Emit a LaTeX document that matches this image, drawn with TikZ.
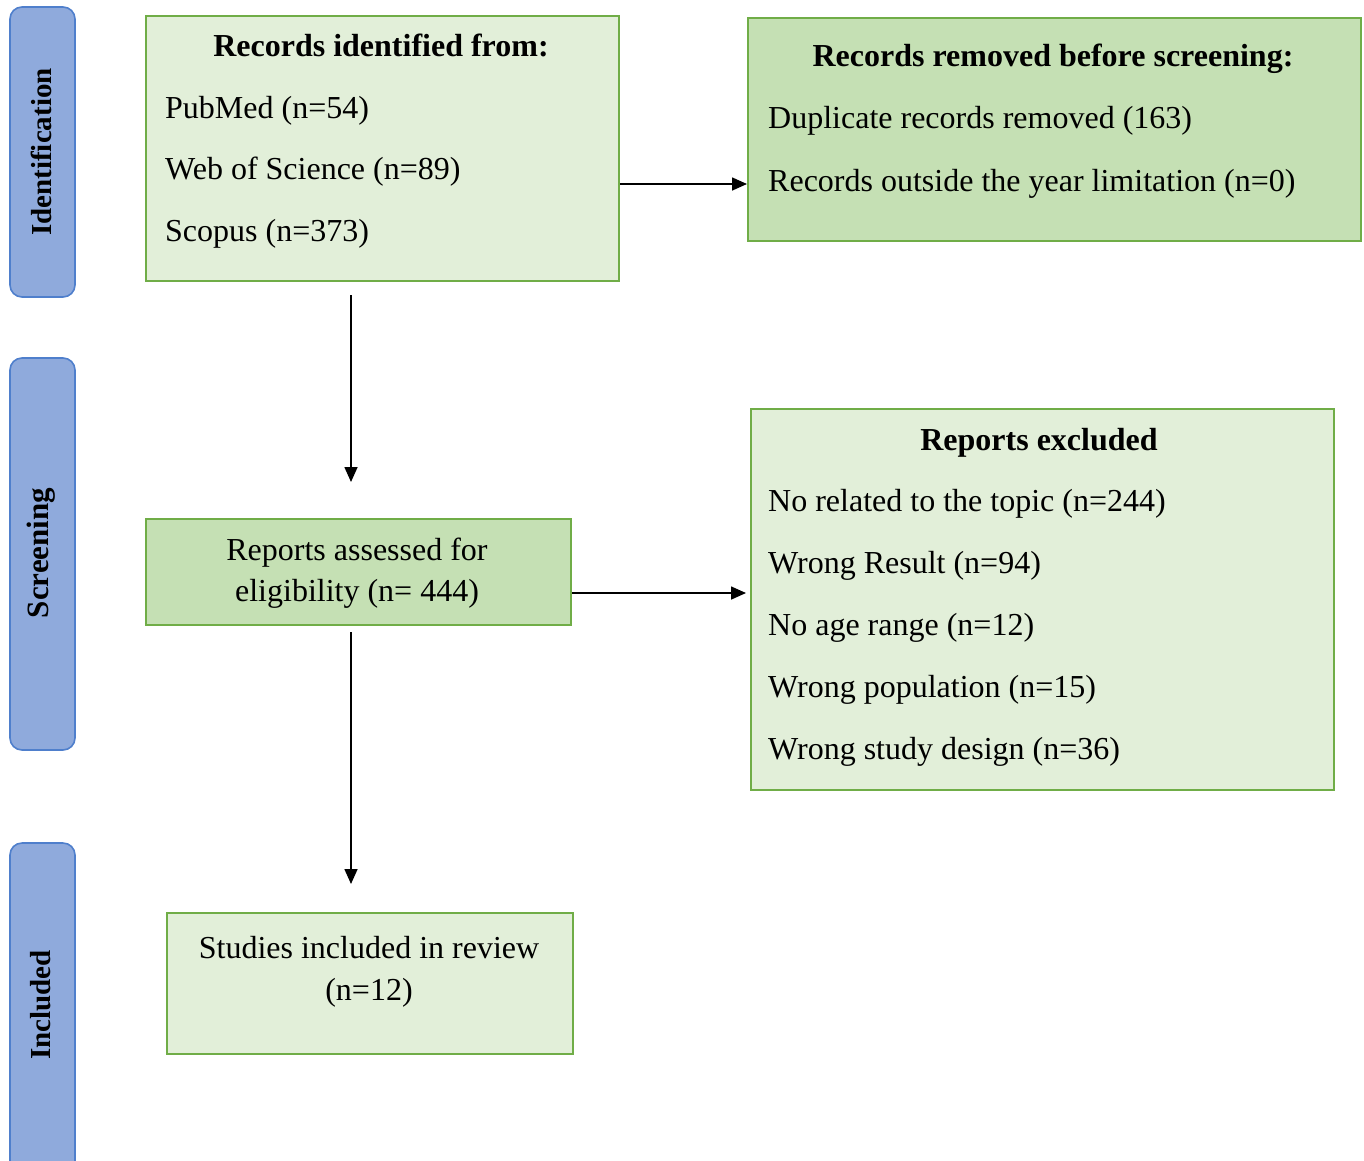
\documentclass[tikz,border=0pt]{standalone}
\usepackage{fontspec}
\setmainfont{Liberation Serif}
\usetikzlibrary{arrows.meta}
\definecolor{lightgrn}{HTML}{E2EFD9}
\definecolor{midgrn}{HTML}{C5E0B4}
\definecolor{grnborder}{HTML}{70AD47}
\definecolor{lanefill}{HTML}{8FAADC}
\definecolor{laneborder}{HTML}{4F7FCC}
\tikzset{
  box/.style={draw=grnborder, line width=1.8pt, inner sep=0pt, anchor=north west},
  lane/.style={draw=laneborder, fill=lanefill, line width=1.6pt, rounded corners=12pt},
  lanetxt/.style={rotate=90, font=\fontsize{29}{34}\selectfont\bfseries, inner sep=0pt},
  txt/.style={font=\fontsize{32}{38}\selectfont, inner sep=0pt, anchor=base west},
  ctxt/.style={font=\fontsize{32}{38}\selectfont, inner sep=0pt, anchor=base},
  ttl/.style={font=\fontsize{32}{38}\selectfont\bfseries, inner sep=0pt, anchor=base},
  arr/.style={draw=black, line width=1.6pt, -{Triangle[length=15pt,width=13pt]}}
}
\begin{document}
\begin{tikzpicture}[x=1pt,y=-1pt]
\clip (0,0) rectangle (1364,1160);
\fill[white] (0,0) rectangle (1364,1160);
% lanes
\draw[lane] (10,7) rectangle (75,297);
\draw[lane] (10,358) rectangle (75,750);
\draw[lane] (10,843) rectangle (75,1190);
\node[lanetxt] (l1) at (41,152) {Identification};
\node[lanetxt, font=\fontsize{31}{34}\selectfont\bfseries] (l2) at (41,553) {Screening};
\node[lanetxt] (l3) at (41,1005) {Included};
% boxes
\node[box, fill=lightgrn, minimum width=473pt, minimum height=265pt] (A) at (145,15) {};
\node[box, fill=midgrn, minimum width=613pt, minimum height=223pt] (B) at (747,17) {};
\node[box, fill=midgrn, minimum width=425pt, minimum height=106pt] (C) at (145,518) {};
\node[box, fill=lightgrn, minimum width=583pt, minimum height=381pt] (D) at (750,408) {};
\node[box, fill=lightgrn, minimum width=406pt, minimum height=141pt] (E) at (166,912) {};
% box A text
\node[ttl] (a0) at (381,56) {Records identified from:};
\node[txt] (a1) at (165,118) {PubMed (n=54)};
\node[txt] (a2) at (165,179) {Web of Science (n=89)};
\node[txt] (a3) at (165,241) {Scopus (n=373)};
% box B text
\node[ttl] (b0) at (1053,66) {Records removed before screening:};
\node[txt] (b1) at (768,128) {Duplicate records removed (163)};
\node[txt] (b2) at (768,191) {Records outside the year limitation (n=0)};
% box C text
\node[ctxt] (c1) at (357,560) {Reports assessed for};
\node[ctxt] (c2) at (357,601) {eligibility (n= 444)};
% box D text
\node[ttl] (d0) at (1039,450) {Reports excluded};
\node[txt] (d1) at (768,511) {No related to the topic (n=244)};
\node[txt] (d2) at (768,573) {Wrong Result (n=94)};
\node[txt] (d3) at (768,635) {No age range (n=12)};
\node[txt] (d4) at (768,697) {Wrong population (n=15)};
\node[txt] (d5) at (768,759) {Wrong study design (n=36)};
% box E text
\node[ctxt] (e1) at (369,958) {Studies included in review};
\node[ctxt] (e2) at (369,1000) {(n=12)};
% connectors
\coordinate (sA) at (620,184);
\coordinate (tB) at (747,184);
\coordinate (pA) at (351,295);
\coordinate (pC) at (351,482);
\coordinate (sC) at (572,593);
\coordinate (tD) at (746,593);
\coordinate (qC) at (351,632);
\coordinate (pE) at (351,884);
\draw[arr] (sA) -- (tB);
\draw[arr] (pA) -- (pC);
\draw[arr] (sC) -- (tD);
\draw[arr] (qC) -- (pE);
\end{tikzpicture}
\end{document}
